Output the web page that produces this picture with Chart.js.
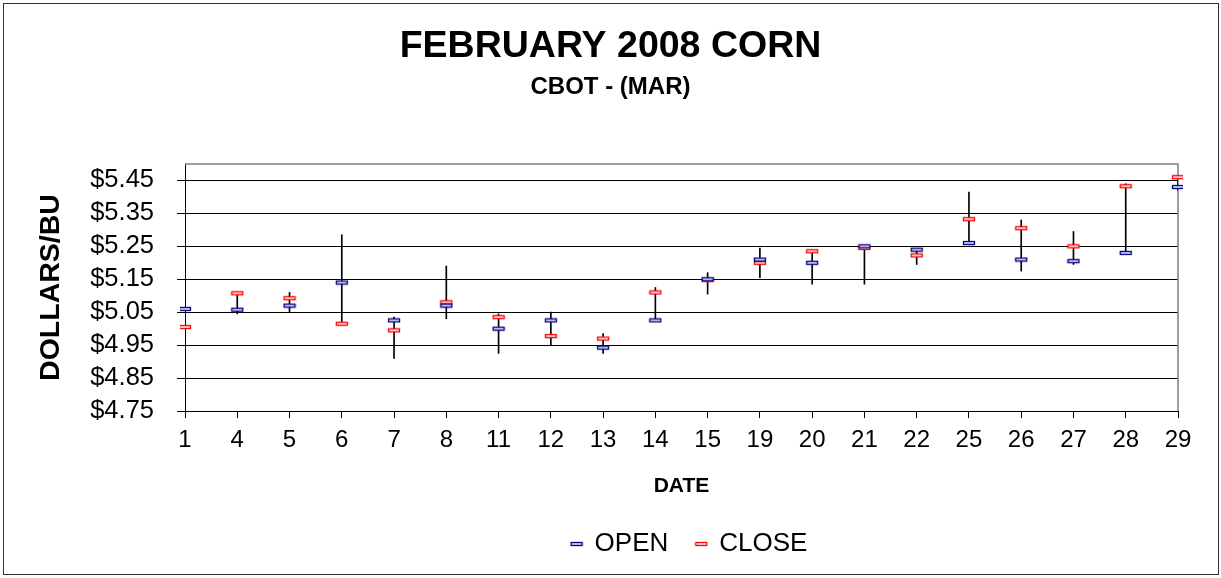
<!DOCTYPE html>
<html>
<head>
<meta charset="utf-8">
<script src="https://cdn.jsdelivr.net/npm/chart.js@4/dist/chart.umd.min.js"></script>
<style>
    html, body { margin: 0; padding: 0; background: #fff; }
    #wrap { position: relative; width: 1221px; height: 578px; }
    #frame { position: absolute; left: 3px; top: 3px; width: 1214px; height: 570px; border: 1.5px solid #333; pointer-events: none; }
</style>
</head>
<body>
<div id="wrap">
    <canvas id="chart" width="1221" height="578"></canvas>
    <div id="frame"></div>
</div>
<script>
// === DATA ===
const dates = ['1', '4', '5', '6', '7', '8', '11', '12', '13', '14', '15', '19', '20', '21', '22', '25', '26', '27', '28', '29'];
const openPrices  = [5.06, 5.0575, 5.07, 5.14, 5.025, 5.07, 5.00, 5.025, 4.9425, 5.025, 5.15, 5.21, 5.20, 5.25, 5.24, 5.26, 5.21, 5.205, 5.23, 5.43];
const closePrices = [5.005, 5.1075, 5.0925, 5.015, 4.995, 5.08, 5.035, 4.9775, 4.97, 5.11, 5.1475, 5.20, 5.235, 5.245, 5.2225, 5.3325, 5.305, 5.25, 5.4325, 5.46];
const highPrices  = [5.085, 5.1075, 5.11, 5.285, 5.035, 5.19, 5.045, 5.05, 4.985, 5.125, 5.17, 5.245, 5.235, 5.25, 5.24, 5.415, 5.33, 5.295, 5.44, 5.46];
const lowPrices   = [4.965, 5.045, 5.05, 5.015, 4.91, 5.03, 4.925, 4.95, 4.925, 5.025, 5.105, 5.155, 5.135, 5.135, 5.195, 5.26, 5.175, 5.195, 5.23, 5.42];
const yTicks = [4.75, 4.85, 4.95, 5.05, 5.15, 5.25, 5.35, 5.45];

// legend sits right of centre in the original
const LEGEND_SHIFT = 79;

// dash markers like the excel ones
function makeMarker(stroke, fill) {
    const c = document.createElement('canvas');
    c.width = 14;
    c.height = 6;
    const g = c.getContext('2d');
    g.fillStyle = fill;
    g.fillRect(1, 1, 12, 4);
    g.strokeStyle = stroke;
    g.lineWidth = 1.3;
    g.strokeRect(1.5, 1.5, 11, 3);
    return c;
}
const openMarker = makeMarker('#000080', '#d8d8f4');
const closeMarker = makeMarker('#ff0000', '#ffe0e0');

Chart.defaults.font.family = "'Liberation Sans', Arial, sans-serif";
Chart.defaults.color = '#000';

// gray frame round the plot area
const plotFrame = {
    id: 'plotFrame',
    beforeDatasetsDraw(chart) {
        const { ctx, chartArea: a } = chart;
        ctx.save();
        ctx.strokeStyle = '#808080';
        ctx.lineWidth = 1.5;
        ctx.beginPath();
        ctx.moveTo(a.left, a.top);
        ctx.lineTo(a.right, a.top);
        ctx.lineTo(a.right, a.bottom);
        ctx.stroke();
        ctx.restore();
    }
};

const legendNudge = {
    id: 'legendNudge',
    afterLayout(chart) {
        chart.legend.left += LEGEND_SHIFT;
        chart.legend.right += LEGEND_SHIFT;
    }
};

const ctx = document.getElementById('chart').getContext('2d');
const chart = new Chart(ctx, {
    data: {
        labels: dates,
        datasets: [{
            type: 'bar',
            label: 'HIGH-LOW',
            data: lowPrices.map((lo, i) => [lo, highPrices[i]]),
            backgroundColor: '#000',
            barThickness: 1,
            order: 2
        }, {
            type: 'line',
            label: 'OPEN',
            data: openPrices,
            showLine: false,
            pointStyle: openMarker,
            borderColor: '#000080',
            backgroundColor: '#000080',
            order: 1
        }, {
            type: 'line',
            label: 'CLOSE',
            data: closePrices,
            showLine: false,
            pointStyle: closeMarker,
            borderColor: '#ff0000',
            backgroundColor: '#ff0000',
            order: 1
        }]
    },
    options: {
        responsive: false,
        animation: false,
        layout: { padding: { left: 0, right: 0, top: 0, bottom: 11 } },
        plugins: {
            title: {
                display: true,
                text: 'FEBRUARY 2008 CORN',
                font: { size: 37.5, weight: 'bold' },
                color: '#000',
                padding: { top: 24.5, bottom: 2 }
            },
            subtitle: {
                display: true,
                text: 'CBOT - (MAR)',
                font: { size: 24, weight: 'bold' },
                color: '#000',
                padding: { top: 1, bottom: 62.7 }
            },
            legend: {
                position: 'bottom',
                labels: {
                    filter: item => item.text !== 'HIGH-LOW',
                    usePointStyle: true,
                    pointStyleWidth: 10,
                    color: '#000',
                    font: { size: 26 },
                    padding: 28
                }
            },
            tooltip: { enabled: false }
        },
        scales: {
            x: {
                offset: false,
                grid: { display: true, offset: false, drawOnChartArea: false, tickLength: 7, color: '#000' },
                border: { color: '#000', width: 1 },
                ticks: { font: { size: 24 }, color: '#000', autoSkip: false, maxRotation: 0, padding: 8 },
                title: { display: true, text: 'DATE', font: { size: 21, weight: 'bold' }, color: '#000', padding: { top: 0, bottom: 4.4 } },
                afterFit: scale => { scale.height = 92; }
            },
            y: {
                min: 4.75,
                max: 5.5,
                afterBuildTicks: scale => { scale.ticks = yTicks.map(v => ({ value: v })); },
                grid: { color: '#000', lineWidth: 1, tickLength: 8 },
                border: { color: '#000', width: 1 },
                ticks: { font: { size: 25.5 }, color: '#000', padding: 23, callback: v => '$' + Number(v).toFixed(2) },
                title: { display: true, text: 'DOLLARS/BU', font: { size: 28.5, weight: 'bold' }, color: '#000', padding: { top: 34, bottom: 0 } },
                afterFit: scale => { scale.width = 185; }
            },
            // empty right axis, just keeps the plot off the right edge
            yRight: {
                type: 'linear',
                position: 'right',
                display: true,
                grid: { display: false },
                border: { display: false },
                ticks: { display: false },
                afterFit: scale => { scale.width = 43; }
            }
        }
    },
    plugins: [plotFrame, legendNudge]
});
</script>
</body>
</html>
